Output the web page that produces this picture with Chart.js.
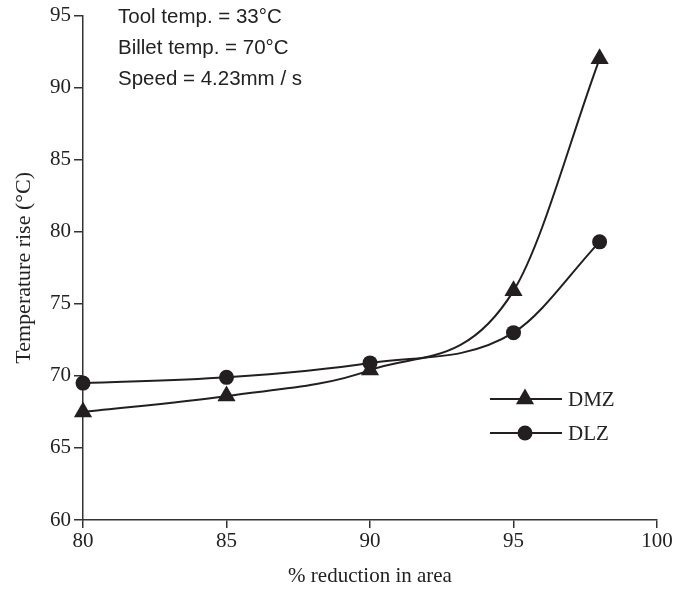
<!DOCTYPE html>
<html>
<head>
<meta charset="utf-8">
<script src="https://cdn.jsdelivr.net/npm/chart.js@4/dist/chart.umd.min.js"></script>
<style>
  html, body { margin: 0; padding: 0; background: #fff; }
  #wrap { width: 688px; height: 592px; position: relative; }
</style>
</head>
<body>
<div id="wrap"><canvas id="c" width="688" height="592"></canvas></div>
<script>
const reduction = [80, 85, 90, 95, 98];
const dmz = [67.5, 68.6, 70.4, 75.9, 92.0];
const dlz = [69.5, 69.9, 70.9, 73.0, 79.3];
const seriesNames = ['DMZ', 'DLZ'];
const notes = ['Tool temp. = 33\u00b0C', 'Billet temp. = 70\u00b0C', 'Speed = 4.23mm / s'];
const xTitle = '% reduction in area';
const yTitle = 'Temperature rise (\u00b0C)';

const INK = '#231f20';
const AXIS = '#333333';
const SERIF = '"Liberation Serif", "Times New Roman", serif';
const SANS = '"Liberation Sans", Arial, sans-serif';

function pts(ys) { return reduction.map((x, i) => ({ x: x, y: ys[i] })); }

const overlay = {
  id: 'overlay',
  afterDraw(chart) {
    const ctx = chart.ctx;
    ctx.save();
    // notes
    ctx.fillStyle = '#222';
    ctx.font = '20.5px ' + SANS;
    ctx.textBaseline = 'middle';
    ctx.textAlign = 'left';
    notes.forEach((t, i) => ctx.fillText(t, 118, 17 + i * 31));
    // legend
    const lx0 = 490, lx1 = 562, mx = 525;
    const ly = [399, 433];
    chart.data.datasets.forEach((ds, i) => {
      const y = ly[i];
      ctx.strokeStyle = ds.borderColor;
      ctx.lineWidth = ds.borderWidth;
      ctx.beginPath(); ctx.moveTo(lx0, y); ctx.lineTo(lx1, y); ctx.stroke();
      ctx.fillStyle = ds.pointBackgroundColor;
      const r = ds.pointRadius;
      ctx.beginPath();
      if (ds.pointStyle === 'triangle') {
        const s = r * Math.sqrt(3) / 2;
        ctx.moveTo(mx, y - r);
        ctx.lineTo(mx + s, y + r / 2);
        ctx.lineTo(mx - s, y + r / 2);
        ctx.closePath();
      } else {
        ctx.arc(mx, y, r, 0, Math.PI * 2);
      }
      ctx.fill();
      ctx.fillStyle = '#222';
      ctx.font = '21px ' + SERIF;
      ctx.textAlign = 'left';
      ctx.fillText(ds.label, 568, y + 1);
    });
    ctx.restore();
  }
};

new Chart(document.getElementById('c'), {
  type: 'line',
  data: {
    datasets: [
      { label: seriesNames[0], data: pts(dmz), borderColor: INK, borderWidth: 2,
        pointStyle: 'triangle', pointRadius: 10.5, pointBackgroundColor: INK, pointBorderWidth: 0,
        cubicInterpolationMode: 'monotone', fill: false, clip: false },
      { label: seriesNames[1], data: pts(dlz), borderColor: INK, borderWidth: 2,
        pointStyle: 'circle', pointRadius: 7.5, pointBackgroundColor: INK, pointBorderWidth: 0,
        cubicInterpolationMode: 'monotone', fill: false, clip: false }
    ]
  },
  options: {
    responsive: false,
    animation: false,
    events: [],
    layout: { padding: { top: 15, right: 31, left: 0, bottom: 0 } },
    plugins: { legend: { display: false }, tooltip: { enabled: false } },
    scales: {
      x: {
        type: 'linear', min: 80, max: 100,
        ticks: { stepSize: 5, color: '#222', font: { family: SERIF, size: 21 }, padding: 1, maxRotation: 0 },
        grid: { drawOnChartArea: false, drawTicks: true, tickLength: 8, color: AXIS, lineWidth: 1.5 },
        border: { display: true, color: AXIS, width: 1.5 },
        title: { display: true, text: xTitle, color: '#222', font: { family: SERIF, size: 21 }, padding: { top: 10, bottom: 3 } },
        afterFit(s) { s.height = 72; }
      },
      y: {
        min: 60, max: 95,
        ticks: { stepSize: 5, color: '#222', font: { family: SERIF, size: 21 }, padding: 3 },
        grid: { drawOnChartArea: false, drawTicks: true, tickLength: 9, color: AXIS, lineWidth: 1.5 },
        border: { display: true, color: AXIS, width: 1.5 },
        title: { display: true, text: yTitle, color: '#222', font: { family: SERIF, size: 22 }, padding: { top: 11, bottom: 4 } },
        afterFit(s) { s.width = 83; }
      }
    }
  },
  plugins: [overlay]
});
</script>
</body>
</html>
